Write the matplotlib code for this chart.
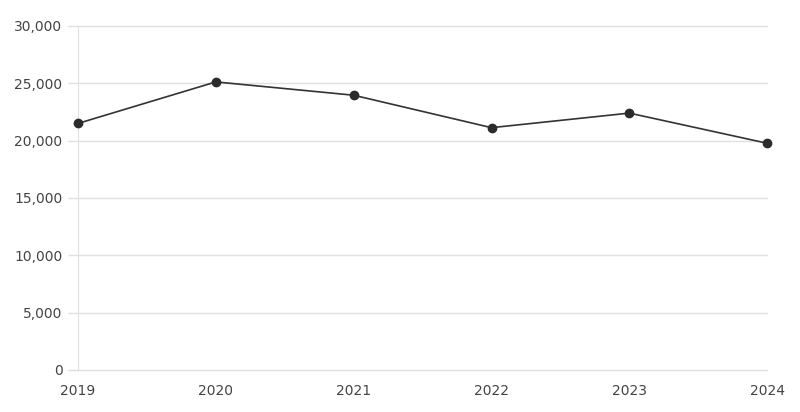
import matplotlib.pyplot as plt
from matplotlib.ticker import FuncFormatter

years = ['2019', '2020', '2021', '2022', '2023', '2024']
values = [21500, 25120, 23960, 21130, 22400, 19770]
y_ticks = [0, 5000, 10000, 15000, 20000, 25000, 30000]

plt.rcParams['font.family'] = ['DejaVu Sans']

fig = plt.figure(figsize=(8, 4.12), dpi=100)
ax = fig.add_axes([0.0975, 0.102, 0.8615, 0.835])

x = range(len(years))
ax.plot(x, values, color='#333333', linewidth=1.2, marker='o',
        markersize=6, markerfacecolor='#2b2b2b', markeredgecolor='#2b2b2b',
        zorder=3, clip_on=False)

ax.set_xlim(0, len(years) - 1)
ax.set_ylim(0, 30000)
ax.set_xticks(list(x))
ax.set_xticklabels(years)
ax.set_yticks(y_ticks)
ax.yaxis.set_major_formatter(FuncFormatter(lambda v, p: f'{int(v):,}'))

ax.grid(axis='y', color='#e0e0e0', linewidth=1)
ax.set_axisbelow(True)
for gl in ax.get_ygridlines():
    gl.set_clip_on(False)
for side in ['top', 'right', 'bottom']:
    ax.spines[side].set_visible(False)
ax.spines['left'].set_color('#e0e0e0')
ax.tick_params(axis='y', length=7.2, width=1, color='#e0e0e0',
               labelcolor='#444444', labelsize=10, pad=4)
ax.tick_params(axis='x', length=0, labelcolor='#444444', labelsize=10, pad=10)

fig.savefig('out.png', dpi=100)
